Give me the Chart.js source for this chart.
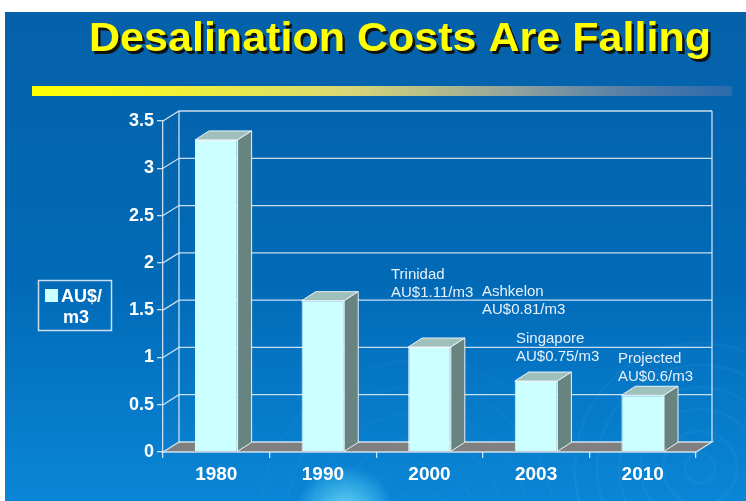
<!DOCTYPE html>
<html><head><meta charset="utf-8">
<script src="https://cdn.jsdelivr.net/npm/chart.js@4.4.0/dist/chart.umd.min.js"></script>
<style>html,body{margin:0;padding:0;background:#fff;overflow:hidden}#wrap{width:746px;height:501px;position:relative}</style>
</head><body><div id="wrap"><canvas id="c" width="746" height="501"></canvas></div>
<script>
// ---- data ----
const titleText = 'Desalination Costs Are Falling';
const years = ['1980', '1990', '2000', '2003', '2010'];
const costs = [3.3, 1.6, 1.11, 0.75, 0.6];
const seriesLabel = ['AU$/', 'm3'];
const yMax = 3.5;
const yStep = 0.5;
const yTickLabels = ['0', '0.5', '1', '1.5', '2', '2.5', '3', '3.5'];
const noteTrinidad = ['Trinidad', 'AU$1.11/m3'];
const noteAshkelon = ['Ashkelon', 'AU$0.81/m3'];
const noteSingapore = ['Singapore', 'AU$0.75/m3'];
const noteProjected = ['Projected', 'AU$0.6/m3'];

// ---- styling / layout ----
const DX = 16, DY = -10;      // wall depth offset
const BDX = 14, BDY = -9;     // bar depth offset
const gridCol = 'rgba(225,235,245,0.9)';
const FONT = '"Liberation Sans", Arial, sans-serif';

const decor = {
  id: 'decor',
  beforeDraw(chart) {
    const ctx = chart.ctx;
    ctx.save();
    ctx.fillStyle = '#ffffff';
    ctx.fillRect(0, 0, 746, 501);
    const g = ctx.createLinearGradient(0, 12, 0, 501);
    g.addColorStop(0, '#0561a9');
    g.addColorStop(0.55, '#016ab7');
    g.addColorStop(1, '#0a86d6');
    ctx.fillStyle = g;
    ctx.fillRect(5, 12, 741, 489);
    // ripples
    ctx.beginPath(); ctx.rect(5, 12, 741, 489); ctx.clip();
    ctx.lineWidth = 3;
    for (let r = 15; r < 140; r += 22) {
      ctx.strokeStyle = 'rgba(150,210,255,0.05)';
      ctx.beginPath(); ctx.arc(700, 468, r, 0, Math.PI * 2); ctx.stroke();
    }
    for (let r = 30; r < 170; r += 26) {
      ctx.strokeStyle = 'rgba(150,210,255,0.035)';
      ctx.beginPath(); ctx.arc(420, 520, r, 0, Math.PI * 2); ctx.stroke();
    }
    const rg = ctx.createRadialGradient(345, 515, 5, 345, 515, 50);
    rg.addColorStop(0, 'rgba(120,230,255,0.8)');
    rg.addColorStop(1, 'rgba(120,230,255,0)');
    ctx.fillStyle = rg;
    ctx.fillRect(280, 450, 140, 60);
    // yellow rule
    const lg = ctx.createLinearGradient(32, 0, 732, 0);
    lg.addColorStop(0, '#ffff00');
    lg.addColorStop(0.12, '#fafa20');
    lg.addColorStop(0.45, '#d8d878');
    lg.addColorStop(0.7, '#8fa0a0');
    lg.addColorStop(1, 'rgba(70,110,170,0.6)');
    ctx.fillStyle = lg;
    ctx.fillRect(32, 86, 700, 10);
    // title
    ctx.font = 'bold 40px ' + FONT;
    ctx.textBaseline = 'alphabetic';
    const w = ctx.measureText(titleText).width;
    const sx = 622 / w;
    ctx.translate(89, 51);
    ctx.scale(sx, 1);
    ctx.fillStyle = '#111111';
    ctx.fillText(titleText, 2.5 / sx, 2.5);
    ctx.fillStyle = '#ffff00';
    ctx.fillText(titleText, 0, 0);
    ctx.restore();
  },
  beforeDatasetsDraw(chart) {
    const ctx = chart.ctx, ys = chart.scales.y, ca = chart.chartArea;
    ctx.save();
    ctx.strokeStyle = gridCol;
    ctx.lineWidth = 1.3;
    const yTop = ys.getPixelForValue(yMax), yBot = ys.getPixelForValue(0);
    ctx.beginPath();
    ctx.moveTo(ca.left + DX, yTop + DY); ctx.lineTo(ca.left + DX, yBot + DY);
    ctx.moveTo(ca.right + DX, yTop + DY); ctx.lineTo(ca.right + DX, yBot + DY);
    ctx.stroke();
    for (let v = yStep; v <= yMax + 1e-9; v += yStep) {
      const y = ys.getPixelForValue(v);
      ctx.beginPath();
      ctx.moveTo(ca.left, y);
      ctx.lineTo(ca.left + DX, y + DY);
      ctx.lineTo(ca.right + DX, y + DY);
      ctx.stroke();
    }
    ctx.beginPath();
    ctx.moveTo(ca.left, yBot);
    ctx.lineTo(ca.right, yBot);
    ctx.lineTo(ca.right + DX, yBot + DY);
    ctx.lineTo(ca.left + DX, yBot + DY);
    ctx.closePath();
    ctx.fillStyle = '#808080';
    ctx.fill();
    ctx.stroke();
    ctx.restore();
  },
  afterDatasetsDraw(chart) {
    const ctx = chart.ctx;
    const meta = chart.getDatasetMeta(0);
    ctx.save();
    ctx.strokeStyle = 'rgba(240,248,255,0.95)';
    ctx.lineWidth = 1;
    meta.data.forEach(bar => {
      const p = bar.getProps(['x', 'y', 'base', 'width'], true);
      const l = p.x - p.width / 2, r = p.x + p.width / 2, t = p.y, b = p.base;
      ctx.beginPath();
      ctx.moveTo(l, t); ctx.lineTo(l + BDX, t + BDY); ctx.lineTo(r + BDX, t + BDY); ctx.lineTo(r, t); ctx.closePath();
      ctx.fillStyle = '#9fc0bb'; ctx.fill(); ctx.stroke();
      ctx.beginPath();
      ctx.moveTo(r, t); ctx.lineTo(r + BDX, t + BDY); ctx.lineTo(r + BDX, b + BDY); ctx.lineTo(r, b); ctx.closePath();
      ctx.fillStyle = '#688480'; ctx.fill(); ctx.stroke();
    });
    ctx.restore();
  },
  afterDraw(chart) {
    const ctx = chart.ctx;
    ctx.save();
    ctx.strokeStyle = 'rgba(225,235,245,0.9)';
    ctx.lineWidth = 1.5;
    ctx.strokeRect(38.5, 280.5, 73, 50);
    ctx.fillStyle = '#ccffff';
    ctx.fillRect(45, 289, 13, 13);
    ctx.fillStyle = '#ffffff';
    ctx.font = 'bold 18px ' + FONT;
    ctx.textBaseline = 'alphabetic';
    ctx.textAlign = 'left';
    ctx.fillText(seriesLabel[0], 61, 302);
    ctx.textAlign = 'center';
    ctx.fillText(seriesLabel[1], 76, 323);
    ctx.textAlign = 'left';
    ctx.font = '15px ' + FONT;
    ctx.fillStyle = '#e8f0fa';
    const notePos = [[noteTrinidad, 391, 279], [noteAshkelon, 482, 296], [noteSingapore, 516, 343], [noteProjected, 618, 363]];
    notePos.forEach(([lines, x, y]) => {
      lines.forEach((s, i) => ctx.fillText(s, x, y + i * 18));
    });
    ctx.restore();
  }
};

new Chart(document.getElementById('c'), {
  type: 'bar',
  data: {
    labels: years,
    datasets: [{
      label: seriesLabel.join(''),
      data: costs,
      backgroundColor: '#ccffff',
      borderColor: 'rgba(240,248,255,0.95)',
      borderWidth: 1,
      borderSkipped: 'bottom',
      categoryPercentage: 1,
      barPercentage: 0.4
    }]
  },
  options: {
    responsive: false,
    animation: false,
    events: [],
    layout: { padding: { left: 0, top: 121, right: 50, bottom: 0 } },
    plugins: { legend: { display: false }, title: { display: false }, tooltip: { enabled: false } },
    scales: {
      x: {
        afterFit(s) { s.height = 49; },
        grid: { drawOnChartArea: false, tickLength: 6, tickColor: gridCol, lineWidth: 1.3, offset: true },
        border: { display: false },
        ticks: { color: '#ffffff', font: { family: FONT, size: 19, weight: 'bold' }, padding: 5 }
      },
      y: {
        min: 0, max: yMax,
        afterFit(s) { s.width = 163; },
        grid: { drawOnChartArea: false, tickLength: 6, tickColor: gridCol, lineWidth: 1.3 },
        border: { display: true, color: gridCol, width: 1.3 },
        ticks: {
          stepSize: yStep, color: '#ffffff', font: { family: FONT, size: 18, weight: 'bold' }, padding: 3,
          callback: (v, i) => yTickLabels[i]
        }
      }
    }
  },
  plugins: [decor]
});
</script>
</body></html>
